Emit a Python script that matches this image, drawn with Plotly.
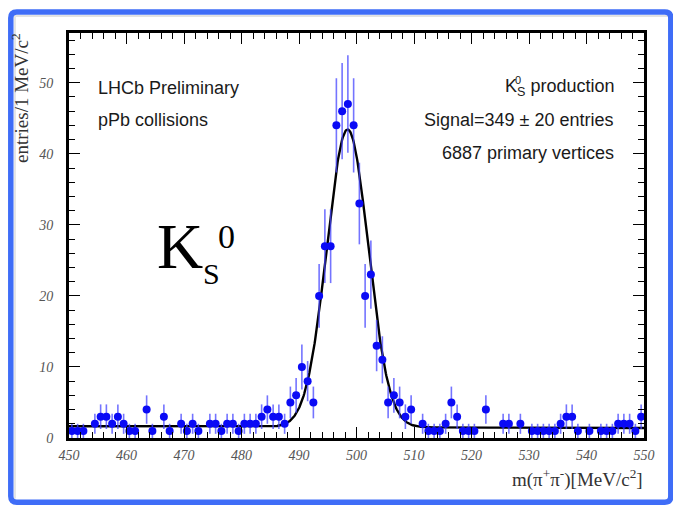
import plotly.graph_objects as go
import numpy as np

# ---------------- data ----------------
bin_centers = [450.5 + i for i in range(100)]
counts = [
    1, 1, 1, 0, 2, 3, 3, 2, 3, 2,
    1, 1, 0, 4, 1, 0, 3, 1, 0, 2,
    1, 2, 1, 0, 2, 2, 1, 2, 2, 1,
    2, 2, 2, 3, 4, 3, 3, 2, 5, 6,
    10, 8, 5, 20, 27, 27, 44, 46, 47, 44,
    33, 20, 23, 13, 11, 5, 6, 5, 3, 4,
    0, 2, 1, 1, 1, 2, 5, 3, 1, 1,
    1, 0, 4, 0, 0, 2, 2, 0, 2, 0,
    1, 1, 1, 1, 1, 2, 3, 3, 1, 0,
    1, 0, 1, 1, 1, 2, 2, 2, 1, 3,
]
x_tick_vals = [450, 460, 470, 480, 490, 500, 510, 520, 530, 540, 550]
y_tick_vals = [0, 10, 20, 30, 40, 50]

# fit model parameters (Gaussian signal + linear background)
fit_mean = 498.45
fit_sigma = 3.6
fit_peak = 41.9
bkg_left = 1.65
bkg_right = 1.40

# ---------------- figure geometry ----------------
W, H = 673, 506
L, R, T, B = 69, 29, 33, 67.5
PW, PH = W - L - R, H - T - B


def px(xp):
    return (xp - L) / PW


def py(yp):
    return (H - B - yp) / PH


pts_x = [x for x, c in zip(bin_centers, counts) if c > 0]
pts_y = [c for c in counts if c > 0]
pts_err = [float(np.sqrt(c)) for c in pts_y]

xf = np.linspace(450, 550, 1001)
bkg = bkg_left + (bkg_right - bkg_left) * (xf - 450) / 100.0
yf = bkg + fit_peak * np.exp(-0.5 * ((xf - fit_mean) / fit_sigma) ** 2)

fig = go.Figure()
fig.add_trace(go.Scatter(
    x=xf, y=yf, mode="lines",
    line=dict(color="black", width=2.4),
    hoverinfo="skip", showlegend=False,
))
fig.add_trace(go.Scatter(
    x=pts_x, y=pts_y, mode="markers",
    marker=dict(color="#0a0af5", size=8),
    error_y=dict(type="data", array=pts_err, visible=True,
                 color="rgba(70,70,255,0.75)", thickness=1.6, width=0),
    showlegend=False,
))

tickfont = dict(family="Liberation Serif", size=14, color="#555555", style="italic")

fig.update_xaxes(
    range=[450, 550], tickvals=x_tick_vals,
    ticks="inside", ticklen=11, tickwidth=1.2, tickcolor="black",
    minor=dict(ticks="inside", ticklen=6, dtick=2, tick0=450, tickcolor="black", tickwidth=1),
    showline=True, linewidth=3, linecolor="black", mirror="allticks",
    showgrid=False, zeroline=False, tickfont=tickfont, ticklabelstandoff=2,
)
fig.update_yaxes(
    range=[0, 57], tickvals=y_tick_vals,
    ticks="inside", ticklen=11, tickwidth=1.2, tickcolor="black",
    minor=dict(ticks="inside", ticklen=6, dtick=2, tick0=0, tickcolor="black", tickwidth=1),
    showline=True, linewidth=3, linecolor="black", mirror="allticks",
    showgrid=False, zeroline=False, tickfont=tickfont, ticklabelstandoff=10,
)

sans = "Liberation Sans"
serif = "Liberation Serif"
ann = []


def add(text, x, y, size, family=sans, xanchor="left", yanchor="middle", color="#1a1a1a", angle=0):
    ann.append(dict(text=text, x=px(x), y=py(y), xref="paper", yref="paper",
                    xanchor=xanchor, yanchor=yanchor, showarrow=False,
                    textangle=angle, font=dict(family=family, size=size, color=color)))


add("LHCb Preliminary", 96, 88, 18)
add("pPb collisions", 96, 120, 18)
add("K<sub>S</sub> production", 616, 88, 18, xanchor="right")
add("0", 518, 80, 11, xanchor="center")
add("Signal=349 ± 20 entries", 616, 120, 18, xanchor="right")
add("6887 primary vertices", 616, 153, 18, xanchor="right")

# big K_S^0 label
add("K", 155, 247, 64, family=serif, color="black")
add("S", 201, 274, 30, family=serif, color="black")
add("0", 216, 237, 34, family=serif, color="black")

# axis titles
add("entries/1 MeV/c<sup>2</sup>", 20, 31, 19, family=serif, xanchor="center",
    yanchor="top", angle=-90, color="#333333")
add("m(π<sup>+</sup>π<sup>-</sup>)[MeV/c<sup>2</sup>]", 645, 479, 19, family=serif,
    xanchor="right", color="#333333")

# blue rounded frame
x0, y0, x1, y1, r = 10.8, 12.0, 670.8, 502.8, 6
path = (f"M {px(x0 + r)} {py(y0)} L {px(x1 - r)} {py(y0)} Q {px(x1)} {py(y0)} {px(x1)} {py(y0 + r)} "
        f"L {px(x1)} {py(y1 - r)} Q {px(x1)} {py(y1)} {px(x1 - r)} {py(y1)} "
        f"L {px(x0 + r)} {py(y1)} Q {px(x0)} {py(y1)} {px(x0)} {py(y1 - r)} "
        f"L {px(x0)} {py(y0 + r)} Q {px(x0)} {py(y0)} {px(x0 + r)} {py(y0)} Z")
shapes = [
    # faint inner shadow along top and left
    dict(type="line", xref="paper", yref="paper", x0=px(14), x1=px(668), y0=py(16), y1=py(16),
         line=dict(color="#e2e2e2", width=2)),
    dict(type="line", xref="paper", yref="paper", x0=px(15), x1=px(15), y0=py(16), y1=py(499),
         line=dict(color="#e6e6e6", width=2)),
    dict(type="path", xref="paper", yref="paper", path=path,
         line=dict(color="#3f6df7", width=5.5), layer="above"),
]

fig.update_layout(
    width=W, height=H,
    margin=dict(l=L, r=R, t=T, b=B, pad=0),
    paper_bgcolor="white", plot_bgcolor="white",
    annotations=ann, shapes=shapes, showlegend=False,
)

fig.write_html("out.html")
